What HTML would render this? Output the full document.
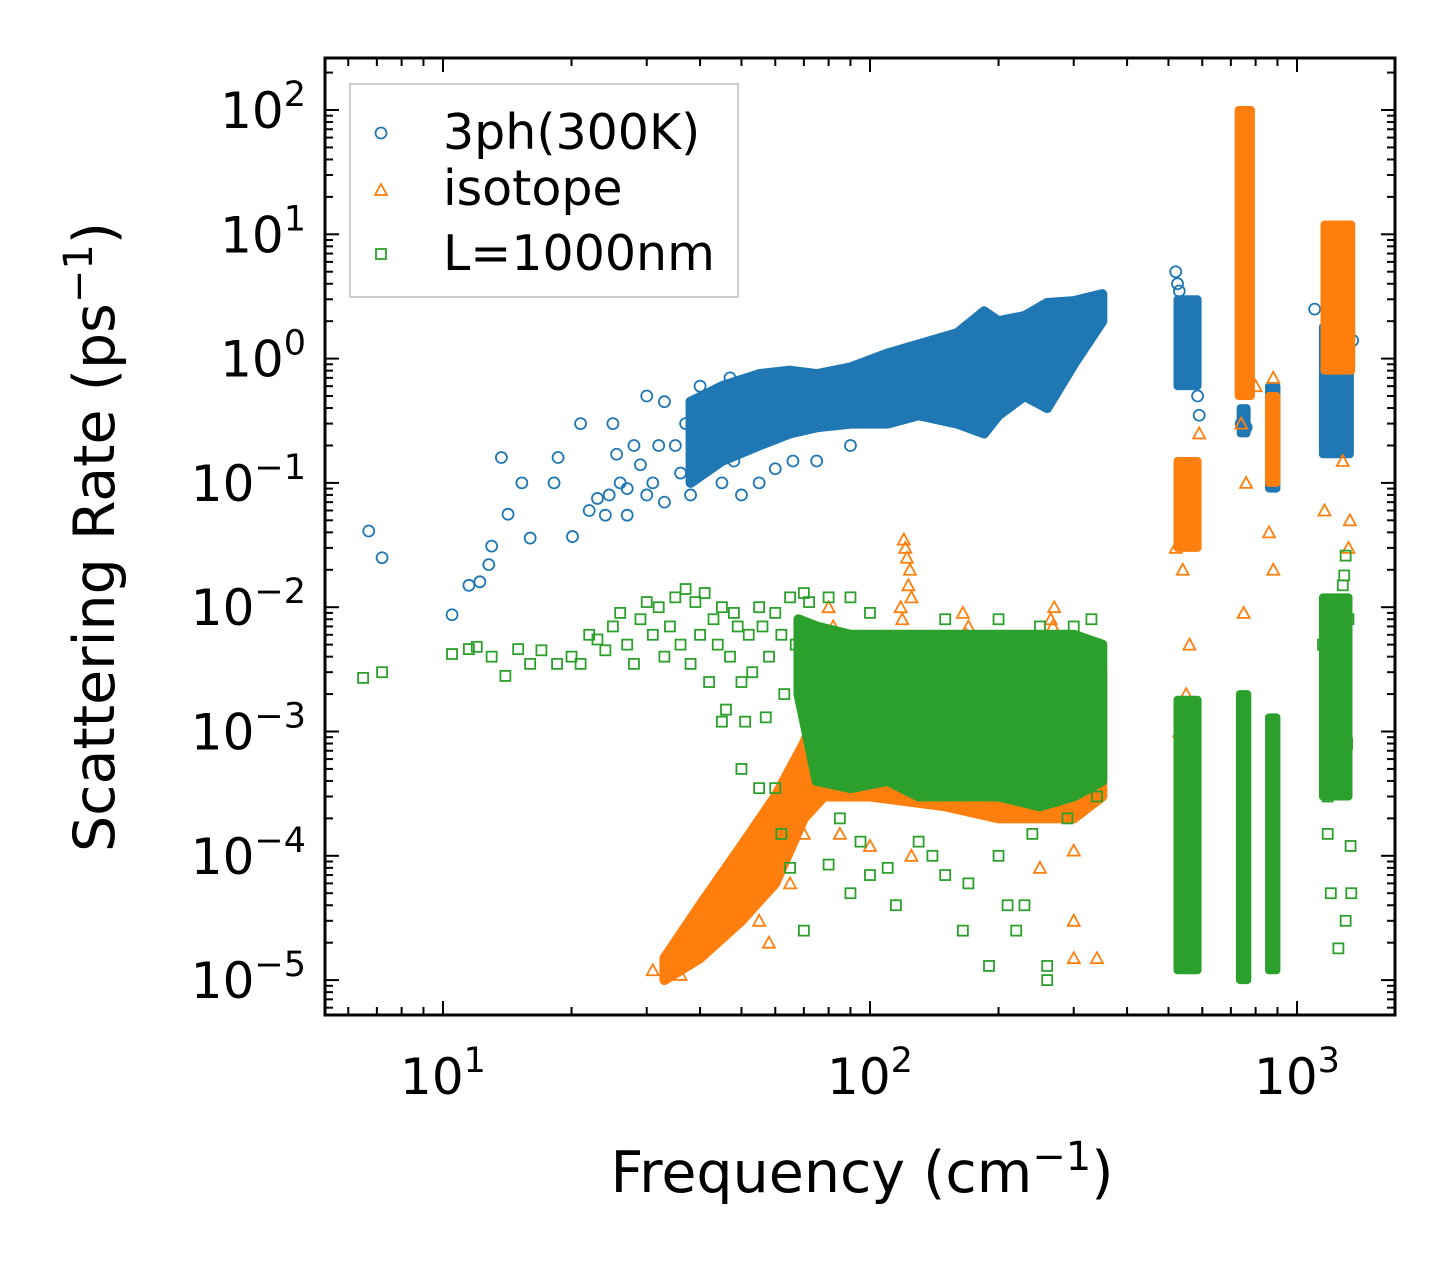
<!DOCTYPE html>
<html><head><meta charset="utf-8"><style>
html,body{margin:0;padding:0;background:#fff;}
svg text{font-family:"DejaVu Sans","Liberation Sans",sans-serif;fill:#000;}
</style></head><body>
<svg id="chart" width="1455" height="1265" viewBox="0 0 1455 1265" xmlns="http://www.w3.org/2000/svg">
<rect width="1455" height="1265" fill="#fff"/>
<defs><clipPath id="plotclip"><rect x="325" y="58" width="1070" height="957"/></clipPath></defs>
<g id="marks" clip-path="url(#plotclip)"></g>
<g id="axes"></g>
<text x="862" y="1192" font-size="57" text-anchor="middle">Frequency (cm<tspan dy="-22" font-size="40">−1</tspan><tspan dy="22">)</tspan></text>
<text transform="translate(114,537) rotate(-90)" font-size="57" text-anchor="middle">Scattering Rate (ps<tspan dy="-22" font-size="40">−1</tspan><tspan dy="22">)</tspan></text>
<g>
<rect x="350" y="84" width="388" height="213" fill="#fff" fill-opacity="0.8" stroke="#ccc" stroke-width="2"/>
<circle cx="381" cy="133" r="5.5" fill="none" stroke="#1f77b4" stroke-width="1.8"/>
<text x="443" y="149" font-size="49">3ph(300K)</text>
<polygon points="381,184 387,195 375,195" fill="none" stroke="#ff7f0e" stroke-width="1.8"/>
<text x="443" y="205" font-size="49">isotope</text>
<rect x="376" y="249" width="10" height="10" fill="none" stroke="#2ca02c" stroke-width="1.8"/>
<text x="443" y="270" font-size="49">L=1000nm</text>
</g>
</svg>
<script>
// ---- data ----
const xTickValues=[10,100,1000];
const xTickExps=["1","2","3"];
const yTickValues=[1e2,1e1,1,1e-1,1e-2,1e-3,1e-4,1e-5];
const yTickExps=["2","1","0","−1","−2","−3","−4","−5"];

const blueFreq=[6.7,7.2,10.5,11.5,12.2,12.8,13,13.7,14.2,15.3,16,18.2,18.6,20.1,21,22,23,24,24.5,25,25.5,26,27,27,28,29,30,30,31,32,33,33,35,36,37,38,40,42,45,47,48,50,55,60,66,75,90,520,525,530,590,585,740,760,1100,1350];
const blueRate=[0.041,0.025,0.0087,0.015,0.016,0.022,0.031,0.16,0.056,0.1,0.036,0.1,0.16,0.037,0.3,0.06,0.075,0.055,0.08,0.3,0.17,0.1,0.055,0.09,0.2,0.14,0.08,0.5,0.1,0.2,0.45,0.07,0.2,0.12,0.3,0.08,0.6,0.25,0.1,0.7,0.15,0.08,0.1,0.13,0.15,0.15,0.2,5,4,3.5,0.35,0.5,0.3,0.28,2.5,1.4];
const blueEnvFreq=[38,45,55,65,75,90,110,130,160,185,200,230,260,300,350];
const blueEnvUpper=[0.45,0.6,0.75,0.8,0.75,0.85,1.1,1.3,1.6,2.4,2.0,2.2,2.8,2.9,3.3];
const blueEnvLower=[0.1,0.15,0.2,0.25,0.28,0.3,0.3,0.35,0.3,0.25,0.35,0.5,0.4,0.9,2.0];
const blueBandFreqLo=[525,738,860,1150];
const blueBandFreqHi=[585,762,895,1330];
const blueBandRateLo=[0.6,0.25,0.09,0.17];
const blueBandRateHi=[3,0.4,0.6,1.8];

const orangeFreq=[31,36,60,65,55,58,70,85,100,125,250,300,340,300,300,330,750,530,550,560,880,860,1160,1330,1320,760,740,800,880,540,520,590,1280,80,82,120,122,124,123,118,121,125,119,165,170,168,270,265,275,268];
const orangeRate=[1.2e-5,1.1e-5,1e-4,6e-5,3e-5,2e-5,1.5e-4,1.5e-4,1.2e-4,1e-4,8e-5,1.1e-4,1.5e-5,3e-5,1.5e-5,6e-4,0.009,1e-3,2e-3,5e-3,0.02,0.04,0.06,0.05,0.03,0.1,0.3,0.6,0.7,0.02,0.03,0.25,0.15,0.01,0.007,0.035,0.025,0.02,0.015,0.01,0.03,0.012,0.008,0.009,0.007,0.006,0.01,0.008,0.006,0.007];
const orangeEnvFreq=[33,40,50,60,70,78,100,150,200,250,300,350];
const orangeEnvUpper=[1.5e-5,4e-5,1.2e-4,3e-4,8e-4,2e-3,5e-3,5e-3,5e-3,5e-3,5e-3,3e-3];
const orangeEnvLower=[1e-5,1.5e-5,3e-5,6e-5,2e-4,3e-4,3e-4,2.5e-4,2e-4,2e-4,2e-4,3e-4];
const orangeBandFreqLo=[525,730,860,1160];
const orangeBandFreqHi=[585,780,895,1340];
const orangeBandRateLo=[0.03,0.5,0.1,0.8];
const orangeBandRateHi=[0.15,100,0.5,12];

const greenFreq=[6.5,7.2,10.5,11.5,12,13,14,15,16,17,18.5,20,21,22,23,24,25,26,27,28,29,30,31,32,33,34,35,36,37,38,39,40,41,42,43,44,45,46,47,48,49,50,51,52,53,55,56,57,58,60,62,63,65,67,70,72,50,45,55,60,62,65,70,80,85,90,95,100,110,115,130,140,150,165,170,190,200,210,220,230,240,260,260,290,320,340,330,300,250,200,150,100,90,80,1150,1300,1290,1280,1320,1180,1200,1250,1300,1340,1335,1310,1180];
const greenRate=[2.7e-3,3e-3,4.2e-3,4.6e-3,4.8e-3,4e-3,2.8e-3,4.6e-3,3.5e-3,4.5e-3,3.5e-3,4e-3,3.5e-3,6e-3,5.5e-3,4.5e-3,7e-3,9e-3,5e-3,3.5e-3,8e-3,1.1e-2,6e-3,1e-2,4e-3,7e-3,1.2e-2,5e-3,1.4e-2,3.5e-3,1.1e-2,6e-3,1.3e-2,2.5e-3,8e-3,5e-3,1e-2,1.5e-3,4e-3,9e-3,7e-3,2.5e-3,1.2e-3,6e-3,3e-3,1e-2,7e-3,1.3e-3,4e-3,9e-3,6e-3,2e-3,1.2e-2,5e-3,1.3e-2,1.1e-2,5e-4,1.2e-3,3.5e-4,3.5e-4,1.5e-4,8e-5,2.5e-5,8.5e-5,2e-4,5e-5,1.3e-4,7e-5,8e-5,4e-5,1.3e-4,1e-4,7e-5,2.5e-5,6e-5,1.3e-5,1e-4,4e-5,2.5e-5,4e-5,1.5e-4,1e-5,1.3e-5,2e-4,1e-3,3e-4,8e-3,7e-3,7e-3,8e-3,8e-3,9e-3,1.2e-2,1.2e-2,0.005,0.026,0.018,0.015,0.008,1.5e-4,5e-5,1.8e-5,3e-5,5e-5,1.2e-4,8e-4,3e-4];
const greenEnvFreq=[68,75,90,110,130,160,200,250,300,350];
const greenEnvUpper=[8e-3,7e-3,6e-3,6e-3,6e-3,6e-3,6e-3,6e-3,6e-3,5e-3];
const greenEnvLower=[2e-3,4e-4,3.5e-4,4e-4,3e-4,3e-4,3e-4,2.5e-4,3e-4,4e-4];
const greenBandFreqLo=[525,735,860,1150];
const greenBandFreqHi=[585,765,895,1320];
const greenBandRateLo=[1.2e-5,1e-5,1.2e-5,3e-4];
const greenBandRateHi=[1.8e-3,2e-3,1.3e-3,1.2e-2];

// ---- axes ----
const X0=443, XD=427, Y0=110, YD=124.3;
const L=325,R=1395,T=58,B=1015;
function xs(f){return X0+(Math.log10(f)-1)*XD;}
function ys(v){return Y0-(Math.log10(v)-2)*YD;}
const NS="http://www.w3.org/2000/svg";
const marks=document.getElementById('marks');
const axes=document.getElementById('axes');
function mk(tag,attrs,parent){const e=document.createElementNS(NS,tag);for(const k in attrs)e.setAttribute(k,attrs[k]);parent.appendChild(e);return e;}

function drawEnv(fr,up,lo,color,name){
  let pts=[];
  for(let i=0;i<fr.length;i++)pts.push(xs(fr[i])+','+ys(up[i]));
  for(let i=fr.length-1;i>=0;i--)pts.push(xs(fr[i])+','+ys(lo[i]));
  const p=mk('polygon',{points:pts.join(' '),fill:color,stroke:color,'stroke-width':10,'stroke-linejoin':'round'},marks);
  
  
}
function drawBands(flo,fhi,rlo,rhi,color,name){
  for(let i=0;i<flo.length;i++){
    const r=mk('rect',{x:xs(flo[i]),y:ys(rhi[i]),width:xs(fhi[i])-xs(flo[i]),height:ys(rlo[i])-ys(rhi[i]),fill:color,stroke:color,'stroke-width':8,'stroke-linejoin':'round'},marks);
    
    
  }
}
function drawPts(fr,rt,color,shape,name){
  for(let i=0;i<fr.length;i++){
    const x=xs(fr[i]),y=ys(rt[i]);let e;
    if(shape==='c')e=mk('circle',{cx:x,cy:y,r:5.5,fill:'none',stroke:color,'stroke-width':1.8},marks);
    else if(shape==='t')e=mk('polygon',{points:`${x},${y-6} ${x+6},${y+5} ${x-6},${y+5}`,fill:'none',stroke:color,'stroke-width':1.8},marks);
    else e=mk('rect',{x:x-5,y:y-5,width:10,height:10,fill:'none',stroke:color,'stroke-width':1.8},marks);
    
    
  }
}
const BLUE='#1f77b4',ORANGE='#ff7f0e',GREEN='#2ca02c';
drawEnv(blueEnvFreq,blueEnvUpper,blueEnvLower,BLUE,'3ph-cloud');
drawBands(blueBandFreqLo,blueBandFreqHi,blueBandRateLo,blueBandRateHi,BLUE,'3ph-band');
drawPts(blueFreq,blueRate,BLUE,'c','3ph-point');
drawEnv(orangeEnvFreq,orangeEnvUpper,orangeEnvLower,ORANGE,'isotope-cloud');
drawBands(orangeBandFreqLo,orangeBandFreqHi,orangeBandRateLo,orangeBandRateHi,ORANGE,'isotope-band');
drawPts(orangeFreq,orangeRate,ORANGE,'t','isotope-point');
drawEnv(greenEnvFreq,greenEnvUpper,greenEnvLower,GREEN,'boundary-cloud');
drawBands(greenBandFreqLo,greenBandFreqHi,greenBandRateLo,greenBandRateHi,GREEN,'boundary-band');
drawPts(greenFreq,greenRate,GREEN,'s','boundary-point');

// frame
const fr=mk('rect',{x:L,y:T,width:R-L,height:B-T,fill:'none',stroke:'#000','stroke-width':3},axes);


for(let d=0;d<=3;d++){
  for(let m=1;m<10;m++){
    const v=m*Math.pow(10,d);const x=xs(v);
    if(x<L||x>R)continue;
    const len=m===1?14:8;
    mk('line',{x1:x,y1:B,x2:x,y2:B-len,stroke:'#000','stroke-width':2},axes);
    mk('line',{x1:x,y1:T,x2:x,y2:T+len,stroke:'#000','stroke-width':2},axes);
  }
}
for(let i=0;i<xTickValues.length;i++){
  const t=mk('text',{x:xs(xTickValues[i]),y:1094,'font-size':50,'text-anchor':'middle'},axes);
  
  
  t.innerHTML='10<tspan dy="-22" font-size="35">'+xTickExps[i]+'</tspan>';
}
for(let d=-6;d<=2;d++){
  for(let m=1;m<10;m++){
    const v=m*Math.pow(10,d);const y=ys(v);
    if(y<T||y>B)continue;
    const len=m===1?14:8;
    mk('line',{x1:L,y1:y,x2:L+len,y2:y,stroke:'#000','stroke-width':2},axes);
    mk('line',{x1:R,y1:y,x2:R-len,y2:y,stroke:'#000','stroke-width':2},axes);
  }
}
for(let i=0;i<yTickValues.length;i++){
  const t=mk('text',{x:306,y:ys(yTickValues[i])+18,'font-size':50,'text-anchor':'end'},axes);
  
  
  t.innerHTML='10<tspan dy="-22" font-size="35">'+yTickExps[i]+'</tspan>';
}
</script>
</body></html>
